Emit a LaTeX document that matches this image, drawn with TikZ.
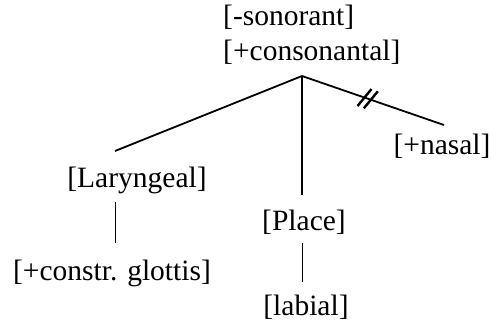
\documentclass[tikz,border=0pt]{standalone}
\usepackage{fontspec}
\setmainfont{Liberation Serif}
\usetikzlibrary{calc}
\begin{document}
\begin{tikzpicture}[x=1pt,y=-1pt,
  lbl/.style={inner sep=0pt,anchor=base,font=\fontsize{29.5}{35}\selectfont},
  branch/.style={line width=1.8pt},
  stem/.style={line width=1pt},
  strike/.style={line width=2.4pt}]
\useasboundingbox (0,0) rectangle (493,322);
% labels
\node[lbl,anchor=base west] (son) at (223,25.5) {[-sonorant]};
\node[lbl,anchor=base west] (cons) at (223,60.5) {[+consonantal]};
\node[lbl] (lar) at (137,187.5) {[Laryngeal]};
\node[lbl] (cg) at (112,280) {[+constr. glottis]};
\node[lbl] (place) at (304,230) {[Place]};
\node[lbl] (lab) at (306,315) {[labial]};
\node[lbl] (nas) at (442,154) {[+nasal]};
% connector end points
\coordinate (root) at (302,76);
\coordinate (larT) at (115,151);
\coordinate (placeT) at (302,195);
\coordinate (nasT) at (444,125);
\coordinate (larB) at (115,202);
\coordinate (cgT) at (115,243);
\coordinate (placeB) at (302,243);
\coordinate (labT) at (302,282);
% branches
\draw[branch] (root) -- (larT);
\draw[branch] (root) -- (placeT);
\draw[branch] (root) -- (nasT);
\draw[stem] (larB) -- (cgT);
\draw[stem] (placeB) -- (labT);
% delinking strokes
\coordinate (s1) at ($(root)!0.44!(nasT)$);
\coordinate (s2) at ($(root)!0.485!(nasT)$);
\draw[strike] ([shift={(-7,8.5)}]s1) -- ([shift={(7,-8.5)}]s1);
\draw[strike] ([shift={(-7,8.5)}]s2) -- ([shift={(7,-8.5)}]s2);
\end{tikzpicture}
\end{document}
